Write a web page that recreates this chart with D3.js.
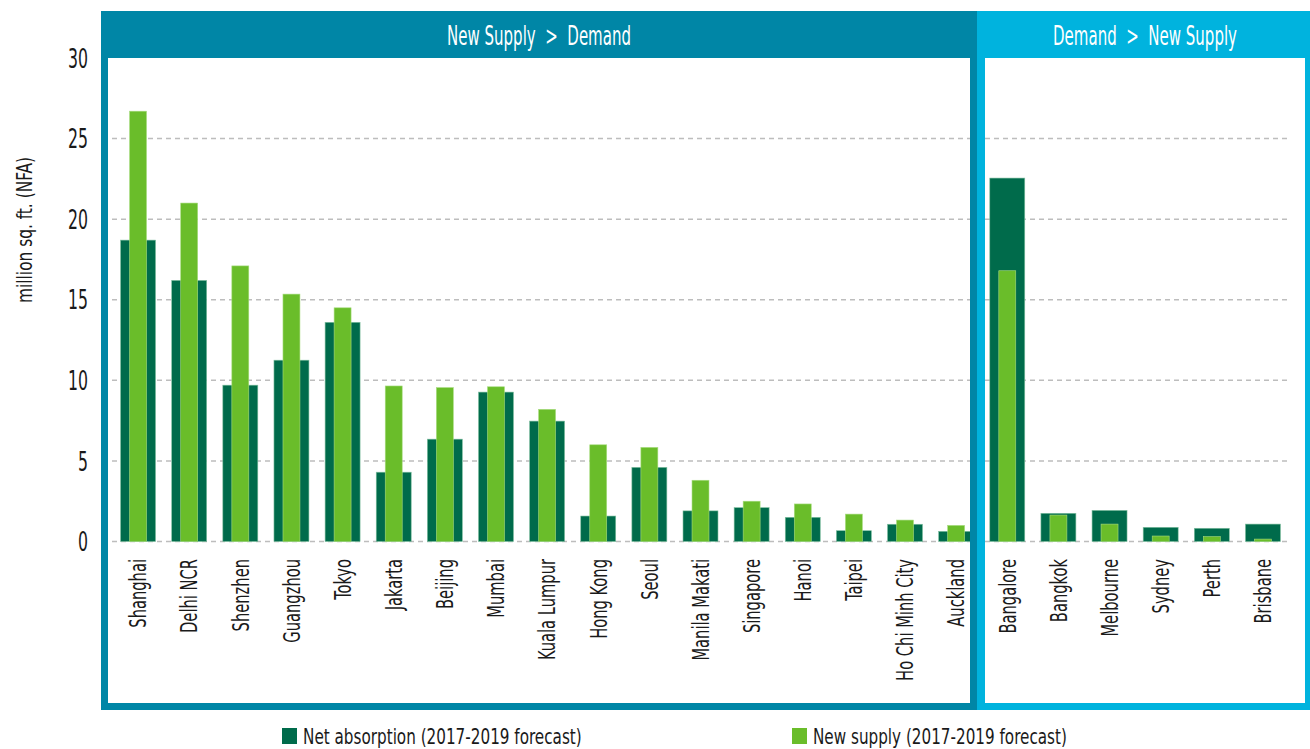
<!DOCTYPE html>
<html><head><meta charset="utf-8">
<script src="https://cdn.jsdelivr.net/npm/d3@7"></script>
<style>
html,body{margin:0;padding:0;background:#fff;}
text{font-family:"DejaVu Sans Condensed","Liberation Sans Narrow","DejaVu Sans",sans-serif;}
</style></head>
<body>
<svg id="chart" width="1310" height="749"></svg>
<script>
const leftCities = ["Shanghai","Delhi NCR","Shenzhen","Guangzhou","Tokyo","Jakarta","Beijing","Mumbai","Kuala Lumpur","Hong Kong","Seoul","Manila Makati","Singapore","Hanoi","Taipei","Ho Chi Minh City","Auckland"];
const rightCities = ["Bangalore","Bangkok","Melbourne","Sydney","Perth","Brisbane"];
const netAbsorption = [18.7,16.2,9.7,11.25,13.6,4.3,6.35,9.27,7.47,1.58,4.6,1.9,2.1,1.5,0.67,1.07,0.63, 22.55,1.75,1.93,0.88,0.82,1.08];
const newSupply =     [26.7,21.0,17.1,15.35,14.5,9.65,9.55,9.6,8.2,6.0,5.84,3.8,2.5,2.33,1.7,1.33,1.0, 16.8,1.64,1.08,0.34,0.3,0.15];
const yTicks = [0,5,10,15,20,25,30];
const panelTitles = ["New Supply > Demand","Demand > New Supply"];
const legendLabels = ["Net absorption (2017-2019 forecast)","New supply (2017-2019 forecast)"];

const C = {dark:"#006b4b", light:"#6abd2a", teal:"#0086a6", sky:"#00b3de", grid:"#bdbdbd", ink:"#1a1a1a"};
const svg = d3.select("#chart");
const cities = leftCities.concat(rightCities);
const data = cities.map((c,i)=>({city:c, net:netAbsorption[i], sup:newSupply[i]}));

const x = d3.scaleBand().domain(cities).range([112.5,1288.5]).paddingInner(0.316).paddingOuter(0.158);
const y = d3.scaleLinear().domain([0,30]).range([541.5,58]);

// condense a text selection horizontally so that a sample text has the target width
function condense(sel, sampleText, targetWidth, baseTransform){
  let s = 1;
  sel.each(function(d){
    if (this.textContent === sampleText) s = targetWidth / this.getComputedTextLength();
  });
  sel.attr("transform", function(d,i){ return baseTransform.call(this,d,i) + ` scale(${s},1)`; });
}

// gridlines
svg.append("g").selectAll("line").data(yTicks.filter(t=>t<30)).join("line")
  .attr("x1",112).attr("x2",1290)
  .attr("y1",d=>y(d)).attr("y2",d=>y(d))
  .attr("stroke",C.grid).attr("stroke-width",1.5).attr("stroke-dasharray","5,4");

// y tick labels
const yt = svg.append("g").selectAll("text").data(yTicks).join("text")
  .attr("dy","0.36em").attr("text-anchor","end").attr("font-size",27).attr("fill",C.ink)
  .text(d=>d);
condense(yt, "30", 20, d=>`translate(88,${y(d)})`);

// y title
const ytitle = svg.append("text").attr("text-anchor","middle").attr("font-size",21).attr("fill",C.ink)
  .attr("dy","0.36em").text("million sq. ft. (NFA)");
condense(ytitle, "million sq. ft. (NFA)", 146, ()=>"translate(24,230) rotate(-90)");

// bars
const bw = x.bandwidth();
svg.append("g").selectAll("rect").data(data).join("rect")
  .attr("x",d=>x(d.city)).attr("width",bw)
  .attr("y",d=>y(d.net)).attr("height",d=>y(0)-y(d.net))
  .attr("fill",C.dark).attr("stroke","#7fbf9f").attr("stroke-width",0.6);
const lw = bw*0.485;
svg.append("g").selectAll("rect").data(data).join("rect")
  .attr("x",d=>x(d.city)+(bw-lw)/2).attr("width",lw)
  .attr("y",d=>y(d.sup)).attr("height",d=>y(0)-y(d.sup))
  .attr("fill",C.light).attr("stroke","#a8dc80").attr("stroke-width",0.6);

// category labels
const cl = svg.append("g").selectAll("text").data(cities).join("text")
  .attr("text-anchor","end").attr("dy","0.36em")
  .attr("font-size",23).attr("fill",C.ink).text(d=>d);
condense(cl, "Ho Chi Minh City", 122, d=>`translate(${x(d)+bw/2},559) rotate(-90)`);

// panels
function panel(x0,x1,color,title,thL,thR){
  const g = svg.append("g");
  g.append("rect").attr("x",x0).attr("y",11).attr("width",x1-x0).attr("height",47).attr("fill",color);
  g.append("rect").attr("x",x0).attr("y",58).attr("width",thL).attr("height",652).attr("fill",color);
  g.append("rect").attr("x",x1-thR).attr("y",58).attr("width",thR).attr("height",652).attr("fill",color);
  g.append("rect").attr("x",x0).attr("y",703).attr("width",x1-x0).attr("height",7).attr("fill",color);
  const t = g.append("text").attr("text-anchor","middle").attr("dy","0.36em")
    .attr("font-size",27).attr("fill","#ffffff").attr("xml:space","preserve").text(title.replace(" > ","  >  "));
  return t;
}
const t1 = panel(101,977,C.teal,panelTitles[0],7,7);
const t2 = panel(977,1310,C.sky,panelTitles[1],8,5);
condense(t1, panelTitles[0].replace(" > ","  >  "), 184, ()=>"translate(539,35)");
condense(t2, panelTitles[1].replace(" > ","  >  "), 184, ()=>"translate(1145,35)");

// legend
const leg = svg.append("g");
[[282,C.dark,legendLabels[0],279],[792,C.light,legendLabels[1],254]].forEach(([lx,col,lab,w])=>{
  leg.append("rect").attr("x",lx).attr("y",728).attr("width",15).attr("height",16).attr("fill",col);
  const t = leg.append("text").attr("font-size",22).attr("fill",C.ink).text(lab);
  condense(t, lab, w, ()=>`translate(${lx+21},744)`);
});
</script>
</body></html>
